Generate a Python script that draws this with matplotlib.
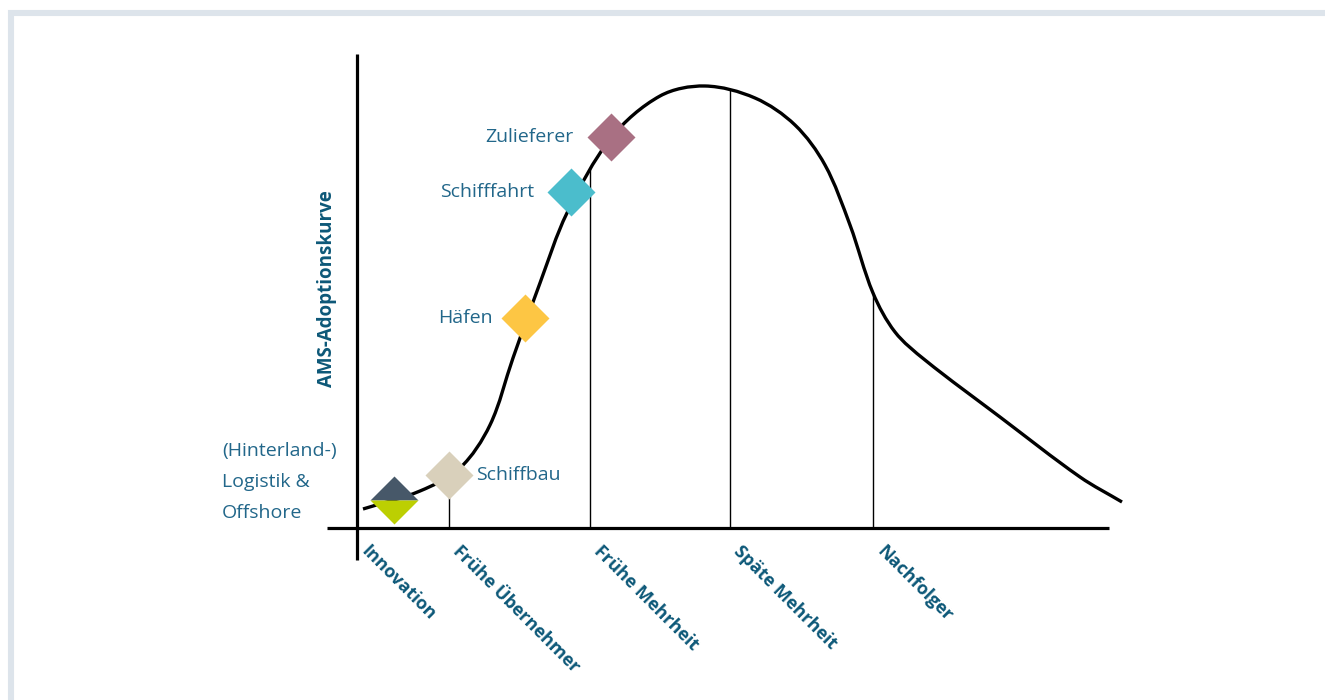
import numpy as np
import matplotlib
matplotlib.use("Agg")
import matplotlib.pyplot as plt
from matplotlib.patches import Rectangle, PathPatch
from matplotlib.path import Path

plt.rcParams["font.family"] = ["Open Sans", "DejaVu Sans"]

# chart units: x = distance right of the y axis, y = height above the x axis
CURVE_X = [6, 63, 103, 133, 156, 183, 210, 254, 303, 348, 398, 438, 468, 493, 516,
           538, 568, 643, 723, 765]
CURVE_Y = [19, 37, 60, 103, 170, 245, 315, 390, 432, 442, 430, 403, 363, 303, 235,
           196, 168, 111, 51, 26]

PHASES = ["Innovation", "Frühe Übernehmer", "Frühe Mehrheit", "Späte Mehrheit", "Nachfolger"]
PHASE_X = [0, 92, 233, 373, 516]

SECTORS = ["Zulieferer", "Schifffahrt", "Häfen", "Schiffbau"]
SECTOR_X = [254, 214, 168, 92]
SECTOR_Y = [391, 336, 210, 53]
SECTOR_COLORS = ["#a97083", "#4bbdcc", "#fdc644", "#d9d0bb"]
LABEL_DX = [-38, -37, -32, 27]

LOGISTIK = "(Hinterland-)\nLogistik &\nOffshore"
LOGISTIK_XY = (37, 28)

TEXT = "#22678a"
BOLD = "#0d5878"
ORIGIN_PX = (357, 528)


def smooth_path(xs, ys):
    """Chord-length Catmull-Rom through the points, as cubic Bezier segments."""
    p = np.column_stack([xs, ys]).astype(float)
    seg = np.hypot(*np.diff(p, axis=0).T)
    t = np.concatenate([[0], np.cumsum(seg)])
    m = np.empty_like(p)
    m[1:-1] = (p[2:] - p[:-2]) / (t[2:] - t[:-2])[:, None]
    m[0] = (p[1] - p[0]) / seg[0]
    m[-1] = (p[-1] - p[-2]) / seg[-1]
    verts = [p[0]]
    codes = [Path.MOVETO]
    for i in range(len(p) - 1):
        h = seg[i] / 3
        verts += [p[i] + m[i] * h, p[i + 1] - m[i + 1] * h, p[i + 1]]
        codes += [Path.CURVE4] * 3
    return Path(verts, codes)


fig = plt.figure(figsize=(13.25, 7), dpi=100)
ax = fig.add_axes([0, 0, 1, 1])
ax.set_xlim(-ORIGIN_PX[0], 1325 - ORIGIN_PX[0])
ax.set_ylim(ORIGIN_PX[1] - 700, ORIGIN_PX[1])
ax.axis("off")

# light frame around the panel
fig.patches.append(Rectangle((11 / 1325, -0.1), 1.2, (700 - 13) / 700 + 0.1,
                             transform=fig.transFigure, fill=False,
                             edgecolor="#dde4eb", lw=4.4, zorder=0))

# axes
ax.plot([-30, 752], [0, 0], color="black", lw=2.3, solid_capstyle="butt", zorder=2)
ax.plot([0, 0], [-32, 474], color="black", lw=2.3, solid_capstyle="butt", zorder=2)

curve = smooth_path(CURVE_X, CURVE_Y)
ax.add_patch(PathPatch(curve, fill=False, edgecolor="black", lw=2.4,
                       capstyle="butt", zorder=3))

# phase boundaries run up to the drawn curve
flat = np.vstack(curve.to_polygons(closed_only=False))
for px in PHASE_X[1:]:
    top = np.interp(px, flat[:, 0], flat[:, 1])
    ax.plot([px, px], [0, top], color="black", lw=1.0, zorder=1)

for name, x, y, c, dx in zip(SECTORS, SECTOR_X, SECTOR_Y, SECTOR_COLORS, LABEL_DX):
    ax.plot(x, y, marker="D", ms=24.5, color=c, mec="none", zorder=4)
    ax.text(x + dx, y, name, color=TEXT, fontsize=14, va="center",
            ha="left" if dx > 0 else "right")

# split diamond for logistics / offshore
ax.plot(LOGISTIK_XY[0], LOGISTIK_XY[1], marker="D", ms=24.5, fillstyle="top",
        markerfacecolor="#475869", markerfacecoloralt="#bccf02", mec="none", zorder=4)
ax.text(-135, 46, LOGISTIK, color=TEXT, fontsize=14, ha="left", va="center",
        linespacing=1.92)

for name, px in zip(PHASES, PHASE_X):
    ax.text(px + 13, -14, name, color=BOLD, fontsize=13, fontweight="bold",
            rotation=-45, rotation_mode="anchor", ha="left", va="top")

ax.text(-30, 239, "AMS-Adoptionskurve", color=BOLD, fontsize=13.5,
        fontweight="bold", rotation=90, ha="center", va="center")

fig.savefig("out.png", dpi=100)
